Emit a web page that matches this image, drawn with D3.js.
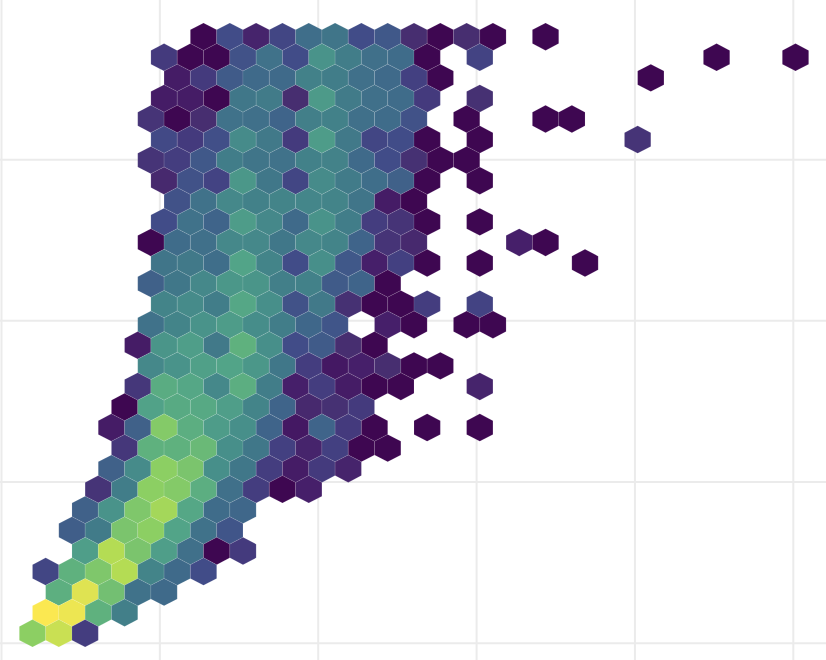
<!DOCTYPE html>
<html>
<head>
<meta charset="utf-8">
<script src="https://cdn.jsdelivr.net/npm/d3@7"></script>
<style>html,body{margin:0;padding:0;background:#fff;overflow:hidden}svg{display:block}</style>
</head>
<body>
<div id="chart"></div>
<script>
// Grid tick positions, in axis units
const xTicks = [0, 1, 2, 3, 4, 5];
const yTicks = [0, 1, 2, 3];

// Hexagon rows, top row first. Row number counts from the bottom.
const rowNumbers = [29,28,27,26,25,24,23,22,21,20,19,18,17,16,15,14,13,12,11,10,9,8,7,6,5,4,3,2,1,0];
// First occupied column of each row
const rowStarts = [6,5,5,5,4,5,4,5,5,5,4,5,4,5,4,4,4,4,3,3,3,3,2,2,1,2,0,1,0,0];
// Colour level of each hexagon (0..100), null means an empty bin
const rowLevels = [
  [0,20,8,18,32,36,20,24,10,0,10,0,null,0],
  [14,0,0,22,34,20,52,40,33,31,0,null,17,null,null,null,null,null,null,null,null,0,null,null,0],
  [6,14,25,30,30,42,40,33,30,16,0,null,null,null,null,null,null,null,0],
  [6,6,0,37,39,10,55,39,33,31,14,null,11],
  [12,0,10,34,33,28,41,42,33,31,22,null,0,null,null,0,0],
  [19,14,21,48,38,14,56,38,18,20,0,null,0,null,null,null,null,null,12],
  [12,15,24,40,36,34,42,43,30,20,11,0,0],
  [9,22,17,54,37,18,48,39,32,27,0,null,0],
  [22,34,46,42,44,45,44,36,6,0],
  [20,34,28,56,46,30,52,40,15,12,0,null,0],
  [0,31,33,46,46,37,46,44,28,12,9,null,null,null,7,0],
  [36,38,32,60,44,20,50,24,7,16,0,null,0,null,null,null,0],
  [27,37,46,54,53,41,42,25,28,0],
  [44,48,40,62,50,22,38,11,0,0,15,null,17],
  [34,44,52,56,49,40,29,23,null,7,0,null,0,0],
  [6,53,57,38,68,50,20,25,10,0],
  [46,52,58,60,54,37,15,5,7,10,0,0],
  [13,65,62,46,66,40,7,15,6,0,0,null,null,8],
  [0,59,64,63,57,44,28,9,11,14],
  [6,27,78,66,56,50,28,5,28,14,0,null,0,null,0],
  [13,68,68,72,50,37,16,8,16,0,0],
  [27,48,80,76,50,37,15,6,14,8],
  [12,40,80,78,66,33,15,0,7],
  [27,52,77,86,62,31,29],
  [26,39,76,80,60,34,23],
  [57,90,76,57,33,0,14],
  [18,68,77,90,44,30,20],
  [67,96,74,34,30],
  [100,98,68,41],
  [80,93,15]
];
// Colour ramp
const colorLevels = [0,7,10,14,20,30,40,50,60,70,80,90,100];
const colorValues = ["#3e0751","#461f6a","#472e70","#443a7d","#414c88","#3f6a8a","#417d89","#478f8a","#52a488","#62b47c","#8ccf63","#b4dc54","#fbe851"];

const width = 826, height = 660;

const gridX = d3.scaleLinear().domain([0, 5]).range([1.5, 793.3]);
const gridY = d3.scaleLinear().domain([0, 3]).range([643.2, 159.7]);
// Bin scales: x in half-column units, y in row units
const binX = d3.scaleLinear().domain([0, 58]).range([32.5, 795.5]);
const binY = d3.scaleLinear().domain([0, 29]).range([633.3, 36.7]);
const color = d3.scaleLinear().domain(colorLevels).range(colorValues).interpolate(d3.interpolateRgb);

const bins = [];
rowLevels.forEach((levels, i) => {
  const row = rowNumbers[i];
  levels.forEach((level, k) => {
    if (level === null) return;
    const col = rowStarts[i] + k;
    bins.push({ half: 2 * col + (row % 2), row, level });
  });
});

const hw = (binX(1) - binX(0));
const hh = (binY(0) - binY(1)) * 2 / 3;
const hexPath = d => {
  const cx = binX(d.half), cy = binY(d.row);
  const p = d3.path();
  p.moveTo(cx, cy - hh);
  p.lineTo(cx + hw, cy - hh / 2);
  p.lineTo(cx + hw, cy + hh / 2);
  p.lineTo(cx, cy + hh);
  p.lineTo(cx - hw, cy + hh / 2);
  p.lineTo(cx - hw, cy - hh / 2);
  p.closePath();
  return p.toString();
};

const svg = d3.select("#chart").append("svg").attr("width", width).attr("height", height);
svg.append("rect").attr("width", width).attr("height", height).attr("fill", "#fff");

svg.append("g").selectAll("line").data(xTicks).join("line")
  .attr("x1", gridX).attr("x2", gridX).attr("y1", 0).attr("y2", height)
  .attr("stroke", "#ebebeb").attr("stroke-width", 2);
svg.append("g").selectAll("line").data(yTicks).join("line")
  .attr("y1", gridY).attr("y2", gridY).attr("x1", 0).attr("x2", width)
  .attr("stroke", "#ebebeb").attr("stroke-width", 2);

svg.append("g").selectAll("path").data(bins).join("path")
  .attr("d", hexPath)
  .attr("fill", d => color(d.level))
  .attr("stroke", "#ffffff")
  .attr("stroke-opacity", 0.2)
  .attr("stroke-width", 0.5);
</script>
</body>
</html>
